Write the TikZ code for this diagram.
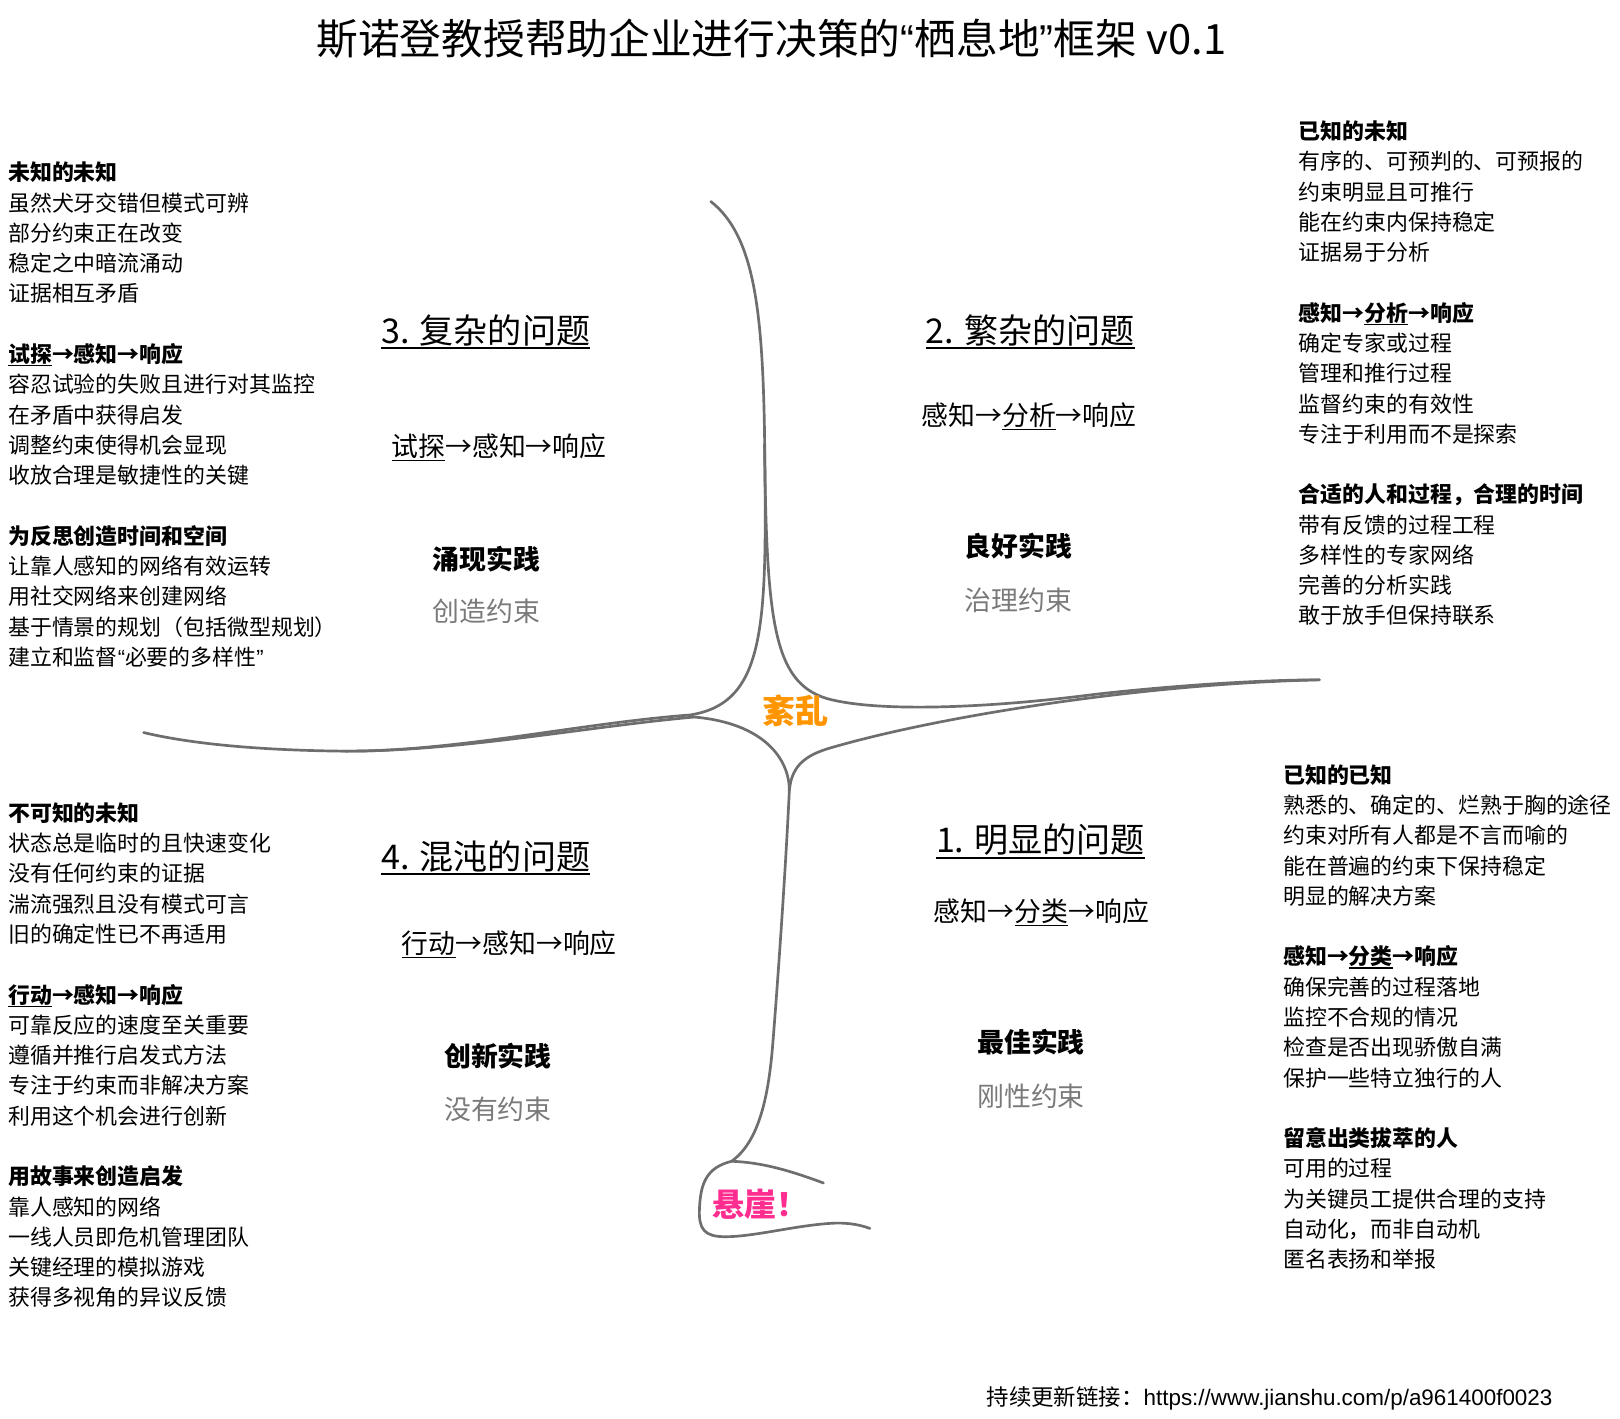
\documentclass[tikz,border=0pt]{standalone}
\usepackage{fontspec}
\setmainfont{Noto Sans CJK SC}
\newfontfamily\helv{Liberation Sans}
\definecolor{linegray}{HTML}{6E6E6E}
\definecolor{softgray}{HTML}{7A7A7A}
\definecolor{chaosorange}{HTML}{FF9500}
\definecolor{cliffpink}{HTML}{FF2D8F}
\newcommand\uln[1]{\leavevmode\setbox0=\hbox{#1}\rlap{\rule[-0.17em]{\wd0}{0.06em}}\box0}
\newcommand\opq{{\helv “}}
\newcommand\clq{{\helv ”}}
\newcommand\txtgroup[4]{\foreach \t [count=\i from 0] in {#4} {\node[blk] (#3\i) at (#1, #2+8+\i*29.31) {\t};}}
\begin{document}
\begin{tikzpicture}[x=0.5pt,y=-0.5pt,
  every node/.style={inner sep=0pt, outer sep=0pt},
  blk/.style={font=\fontsize{10.6}{12}\selectfont, anchor=base west},
  hdr/.style={font=\fontsize{16.5}{18}\selectfont, anchor=base west},
  flow/.style={font=\fontsize{13}{15}\selectfont, anchor=base west},
  practice/.style={font=\bfseries\fontsize{13}{15}\selectfont, anchor=center},
  constraint/.style={font=\fontsize{13}{15}\selectfont, text=softgray, anchor=center},
  curve/.style={draw=linegray, line width=1.3pt, line cap=round, line join=round}]
\fill[white] (0,0) rectangle (1568,1373);
\useasboundingbox (0,0) rectangle (1568,1373);

% title
\node[font=\fontsize{20.2}{24}\selectfont, anchor=base] (title) at (746.5,53) {斯诺登教授帮助企业进行决策的\opq 栖息地\clq 框架 v0.1};

% curves
\draw[curve] (688,195) .. controls (730,228) and (738,300) .. (740,420)
  .. controls (742,600) and (744,680) .. (668,692)
  .. controls (560,700) and (440,728) .. (330,727)
  .. controls (250,726) and (185,720) .. (139,709);
\draw[curve] (740,430) .. controls (742,600) and (748,660) .. (800,676)
  .. controls (850,690) and (960,685) .. (1060,672)
  .. controls (1150,662) and (1230,658) .. (1277,658);
\draw[curve] (330,727) .. controls (440,728) and (570,703) .. (672,694)
  .. controls (740,700) and (764,735) .. (764,765)
  .. controls (760,850) and (752,960) .. (748,1010)
  .. controls (744,1060) and (735,1105) .. (708,1124);
\draw[curve] (764,765) .. controls (766,745) and (775,733) .. (800,725)
  .. controls (900,695) and (1100,662) .. (1277,658);
\draw[curve] (708,1124) .. controls (740,1125) and (770,1135) .. (797,1145);
\draw[curve] (708,1124) .. controls (684,1130) and (678,1145) .. (677,1170)
  .. controls (676,1190) and (682,1197) .. (702,1197)
  .. controls (730,1197) and (770,1186) .. (805,1184)
  .. controls (822,1183) and (834,1186) .. (842,1189);

% centre labels
\node[font=\bfseries\fontsize{16}{18}\selectfont, text=chaosorange] (chaos) at (770,688) {紊乱};
\node[font=\bfseries\fontsize{15.5}{18}\selectfont, text=cliffpink, anchor=base west] (cliff) at (690,1177) {悬崖！};

% quadrant 3
\node[hdr] (h3) at (369,332.5) {\uln{3. 复杂的问题}};
\node[flow] (f3) at (379,442) {\uln{试探}→感知→响应};
\node[practice] (p3) at (471,541) {涌现实践};
\node[constraint] (c3) at (471,592) {创造约束};
% quadrant 2
\node[hdr] (h2) at (896,332.5) {\uln{2. 繁杂的问题}};
\node[flow] (f2) at (892,412) {感知→\uln{分析}→响应};
\node[practice] (p2) at (986,529) {良好实践};
\node[constraint] (c2) at (986,581) {治理约束};
% quadrant 1
\node[hdr] (h1) at (906,825.5) {\uln{1. 明显的问题}};
\node[flow] (f1) at (904,892) {感知→\uln{分类}→响应};
\node[practice] (p1) at (998,1009) {最佳实践};
\node[constraint] (c1) at (998,1061) {刚性约束};
% quadrant 4
\node[hdr] (h4) at (369,841.5) {\uln{4. 混沌的问题}};
\node[flow] (f4) at (389,923) {\uln{行动}→感知→响应};
\node[practice] (p4) at (482,1022) {创新实践};
\node[constraint] (c4) at (482,1074) {没有约束};

% left top block
\txtgroup{8}{167}{lta}{\textbf{未知的未知},虽然犬牙交错但模式可辨,部分约束正在改变,稳定之中暗流涌动,证据相互矛盾}
\txtgroup{8}{342.9}{ltb}{{\textbf{\uln{试探}→感知→响应}},容忍试验的失败且进行对其监控,在矛盾中获得启发,调整约束使得机会显现,收放合理是敏捷性的关键}
\txtgroup{8}{518.7}{ltc}{\textbf{为反思创造时间和空间},让靠人感知的网络有效运转,用社交网络来创建网络,基于情景的规划（包括微型规划）,建立和监督\opq 必要的多样性\clq}

% right top block
\txtgroup{1257}{127}{rta}{\textbf{已知的未知},有序的、可预判的、可预报的,约束明显且可推行,能在约束内保持稳定,证据易于分析}
\txtgroup{1257}{302.9}{rtb}{{\textbf{感知→\uln{分析}→响应}},确定专家或过程,管理和推行过程,监督约束的有效性,专注于利用而不是探索}
\txtgroup{1257}{478.7}{rtc}{\textbf{合适的人和过程，合理的时间},带有反馈的过程工程,多样性的专家网络,完善的分析实践,敢于放手但保持联系}

% left bottom block
\txtgroup{8}{787}{lba}{\textbf{不可知的未知},状态总是临时的且快速变化,没有任何约束的证据,湍流强烈且没有模式可言,旧的确定性已不再适用}
\txtgroup{8}{962.9}{lbb}{{\textbf{\uln{行动}→感知→响应}},可靠反应的速度至关重要,遵循并推行启发式方法,专注于约束而非解决方案,利用这个机会进行创新}
\txtgroup{8}{1138.7}{lbc}{\textbf{用故事来创造启发},靠人感知的网络,一线人员即危机管理团队,关键经理的模拟游戏,获得多视角的异议反馈}

% right bottom block
\txtgroup{1242}{750}{rba}{\textbf{已知的已知},熟悉的、确定的、烂熟于胸的途径,约束对所有人都是不言而喻的,能在普遍的约束下保持稳定,明显的解决方案}
\txtgroup{1242}{925.9}{rbb}{{\textbf{感知→\uln{分类}→响应}},确保完善的过程落地,监控不合规的情况,检查是否出现骄傲自满,保护一些特立独行的人}
\txtgroup{1242}{1101.7}{rbc}{\textbf{留意出类拔萃的人},可用的过程,为关键员工提供合理的支持,自动化，而非自动机,匿名表扬和举报}

% footer
\node[font=\fontsize{10.85}{12}\selectfont, anchor=base west] (footer) at (955,1360) {持续更新链接：{\helv https://www.jianshu.com/p/a961400f0023}};
\end{tikzpicture}
\end{document}
